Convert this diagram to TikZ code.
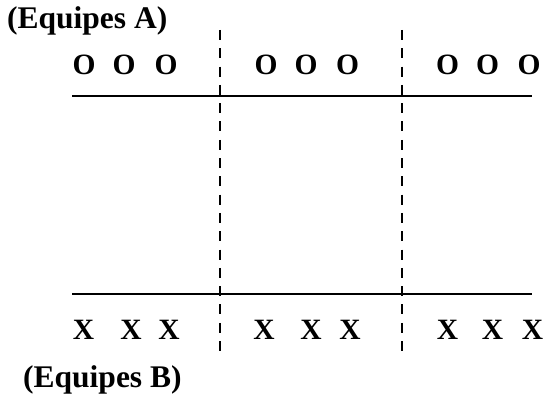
\documentclass[tikz,border=0pt]{standalone}
\usepackage{fontspec}
\setmainfont{Liberation Serif}

\begin{document}
\begin{tikzpicture}[x=1pt,y=1pt]
  \useasboundingbox (0,0) rectangle (545,401);
  % lignes de fond
  \draw[line width=2.7pt] (72,305) -- (532,305);
  \draw[line width=2.7pt] (72,107) -- (532,107);
  % separations en pointilles
  \foreach \xs in {220,402}
    \draw[line width=2.6pt,dash pattern=on 10pt off 8.3pt] (\xs,371) -- (\xs,44);
  % joueurs
  \foreach \xo [count=\i] in {84,124,166,266,306,347.5,447.5,487.5,529}
    \node[anchor=base,inner sep=0pt,font=\fontsize{29.5}{32}\selectfont\bfseries] (o\i) at (\xo,326.5) {O};
  \foreach \xx [count=\i] in {83.5,131,169,264,311,350,447.5,492.5,532.5}
    \node[anchor=base,inner sep=0pt,font=\fontsize{29.5}{32}\selectfont\bfseries] (x\i) at (\xx,61) {X};
  % equipes
  \node[anchor=base west,inner sep=0pt,font=\fontsize{31.5}{34}\selectfont\bfseries] (eqA) at (7,372) {(Equipes A)};
  \node[anchor=base west,inner sep=0pt,font=\fontsize{31.5}{34}\selectfont\bfseries] (eqB) at (23,14) {(Equipes B)};
\end{tikzpicture}
\end{document}
